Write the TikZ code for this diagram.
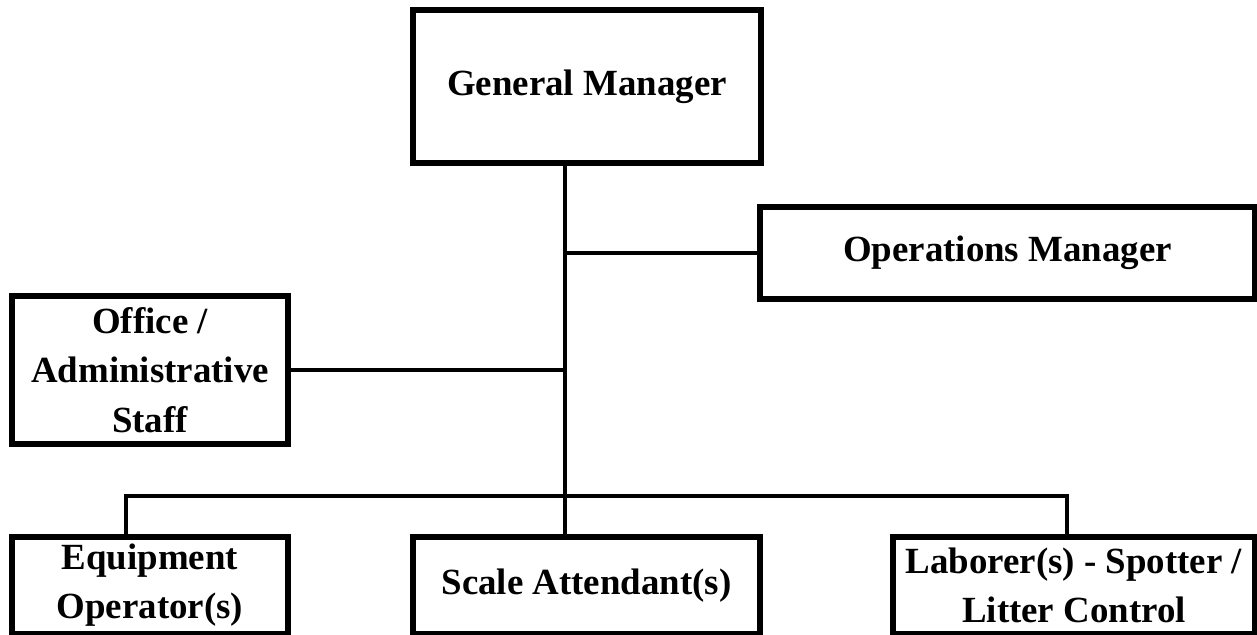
\documentclass[tikz,border=0pt]{standalone}
\usepackage{fontspec}
\setmainfont{Liberation Serif}
\usetikzlibrary{positioning,calc}
\tikzset{
  orgblk/.style={draw,rectangle,line width=3.2pt,align=center,inner sep=2pt,
    font=\fontsize{21}{28}\selectfont\bfseries},
  lnk/.style={line width=1.9pt}
}

\begin{document}
\begin{tikzpicture}[x=0.02cm,y=-0.02cm]
  \useasboundingbox (0,0) rectangle (1257,635);

  \node[orgblk, minimum width=6.96cm, minimum height=3.06cm] (gm) at (587,86.5) {General Manager};
  \node[orgblk, minimum width=9.9cm, minimum height=1.84cm] (ops) at (1007.5,253) {Operations Manager};
  \node[orgblk, minimum width=5.52cm, minimum height=2.96cm] (office) at (150,370) {Office /\\Administrative\\Staff};
  \node[orgblk, minimum width=5.52cm, minimum height=1.94cm] (equip) at (150,585.5) {Equipment\\Operator(s)};
  \node[orgblk, minimum width=6.94cm, minimum height=1.94cm] (scale) at (586.5,585.5) {Scale Attendant(s)};
  \node[orgblk, minimum width=7.24cm, minimum height=1.94cm] (labor) at (1074,585.5) {Laborer(s) - Spotter /\\Litter Control};

  % trunk and bus
  \coordinate (trunk) at (565,496);
  \coordinate (busL) at (126,496);
  \coordinate (busR) at (1067,496);

  \draw[lnk] (gm.south -| trunk) -- (scale.north -| trunk);
  \draw[lnk] (ops.west) -- (ops.west -| trunk);
  \draw[lnk] (office.east) -- (office.east -| trunk);
  \draw[lnk] (busL |- equip.north) -- (busL) -- (busR) -- (busR |- labor.north);
\end{tikzpicture}
\end{document}
